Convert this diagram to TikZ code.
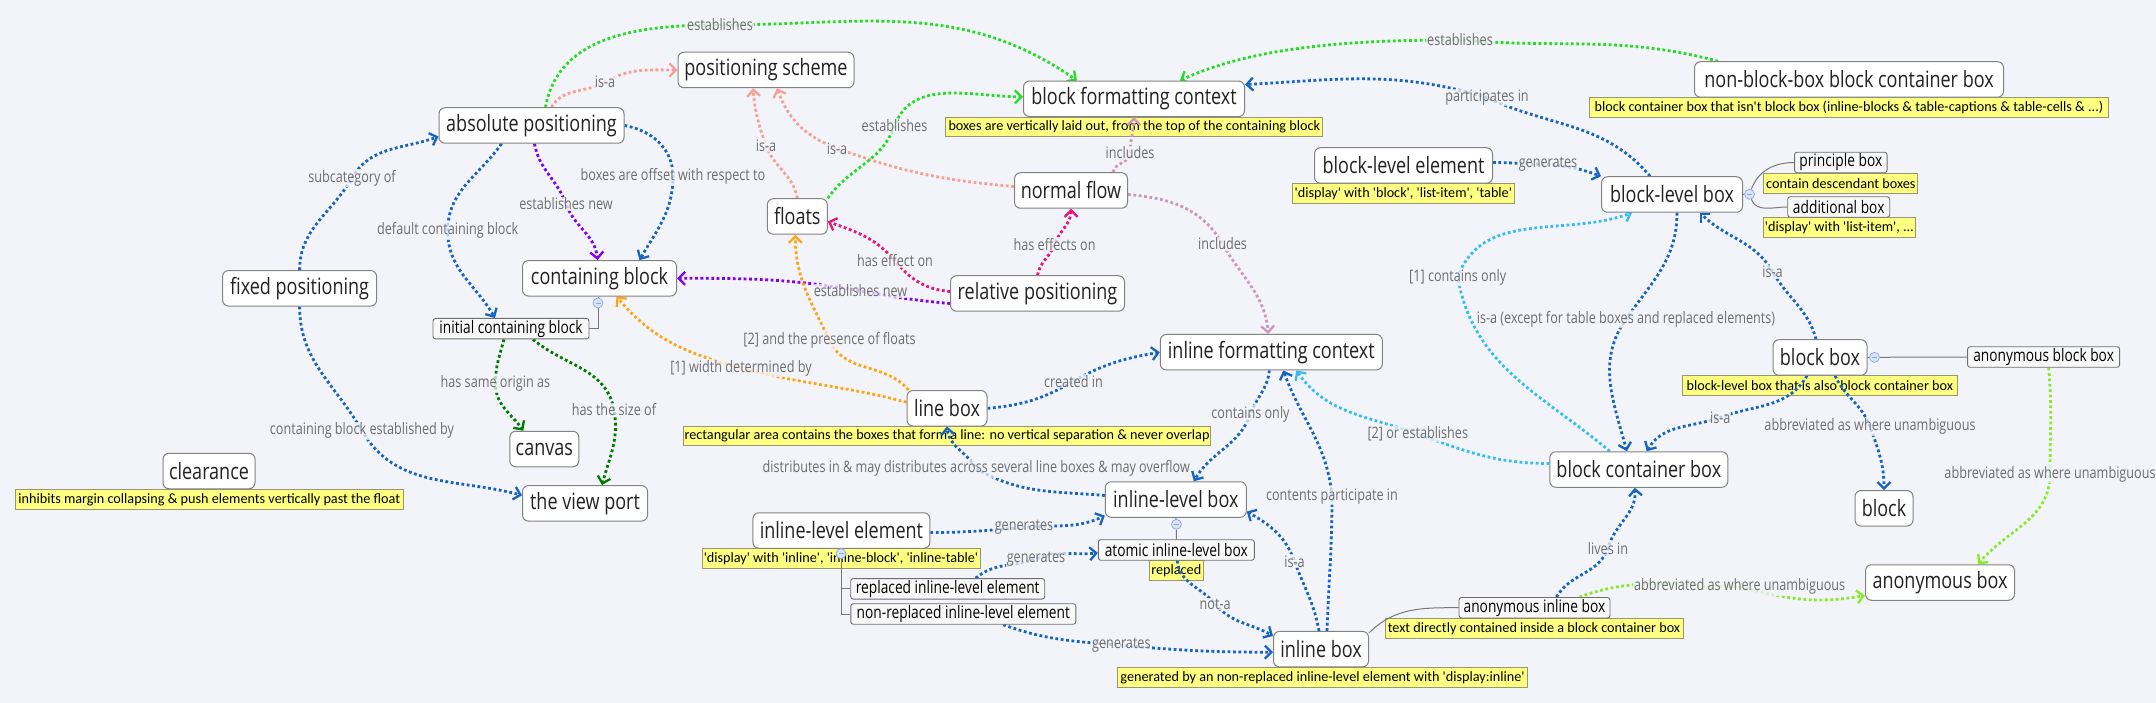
\documentclass[tikz,border=0pt]{standalone}
\usepackage{fontspec}
\usetikzlibrary{arrows.meta}
\newfontfamily\osf{Open Sans}[FakeStretch=0.8]
\newfontfamily\notef{Carlito}
\newcommand\myq{\textquotesingle}
\definecolor{bgc}{RGB}{243,244,249}
\definecolor{boxgray}{RGB}{130,130,130}
\definecolor{sboxgray}{RGB}{110,110,110}
\definecolor{sboxfill}{RGB}{248,248,248}
\definecolor{txtdark}{RGB}{34,34,34}
\definecolor{notegray}{RGB}{150,150,120}
\definecolor{noteyellow}{RGB}{255,255,128}
\definecolor{labgray}{RGB}{110,110,110}
\definecolor{treegray}{RGB}{120,120,120}
\definecolor{circblue}{RGB}{140,170,220}
\definecolor{circfill}{RGB}{215,228,248}
\definecolor{cblue}{RGB}{21,101,192}
\definecolor{cgreen}{RGB}{34,221,34}
\definecolor{csalmon}{RGB}{245,160,150}
\definecolor{cpurple}{RGB}{128,0,240}
\definecolor{cmag}{RGB}{232,18,122}
\definecolor{cmauve}{RGB}{205,150,190}
\definecolor{corange}{RGB}{255,165,20}
\definecolor{cdgreen}{RGB}{0,122,0}
\definecolor{clblue}{RGB}{50,190,240}
\definecolor{clgreen}{RGB}{135,235,40}
\pgfdeclarelayer{bgl}
\pgfdeclarelayer{notes}
\pgfdeclarelayer{edges}
\pgfsetlayers{bgl,notes,edges,main}
\tikzset{
 box/.style={draw=boxgray, line width=1pt, fill=white, rounded corners=6pt, inner sep=0pt, minimum height=35.5pt, font=\osf\fontsize{22.5}{24}\selectfont, text=txtdark},
 sbox/.style={draw=sboxgray, line width=0.9pt, fill=sboxfill, rounded corners=2.5pt, inner sep=0pt, minimum height=20.5pt, font=\osf\fontsize{17.2}{19}\selectfont, text=black},
 note/.style={draw=notegray, line width=0.8pt, fill=noteyellow, inner sep=0pt, minimum height=19.6pt, font=\notef\fontsize{14.2}{16}\selectfont, text=black},
 lab/.style={font=\osf\fontsize{15.8}{17}\selectfont, text=labgray, fill=bgc, fill opacity=0.75, text opacity=1, inner sep=1pt},
 conn/.style={line width=2.8pt, dash pattern=on 2.8pt off 2.6pt, -{Straight Barb[length=6.5pt,width=13pt,line width=2.3pt]}},
 tree/.style={draw=treegray, line width=1pt},
 mcirc/.style={circle, draw=circblue, fill=circfill, line width=0.7pt, inner sep=0pt, minimum size=10pt,
   path picture={\draw[circblue, line width=0.8pt] ([xshift=-2.5pt]path picture bounding box.center) -- ([xshift=2.5pt]path picture bounding box.center);}},
}
\begin{document}
\begin{tikzpicture}[x=1pt,y=1pt]
\begin{pgfonlayer}{bgl}
\path[fill=bgc] (0,0) rectangle (2156,-703);
\end{pgfonlayer}
\useasboundingbox (0,0) rectangle (2156,-703);

% main boxes
\node[box, minimum width=176pt] (ps) at (766,-70) {positioning scheme};
\node[box, minimum width=221pt] (bfc) at (1134,-98.8) {block formatting context};
\node[box, minimum width=309pt] (nbb) at (1849,-79.5) {non-block-box block container box};
\node[box, minimum width=185pt] (abs) at (531.5,-125.5) {absolute positioning};
\node[box, minimum width=178pt] (ble) at (1403.5,-165.5) {block-level element};
\node[box, minimum width=113pt] (nf) at (1071,-190.5) {normal flow};
\node[box, minimum width=141pt] (blb) at (1672,-194.5) {block-level box};
\node[box, minimum width=60pt] (fl) at (797.3,-216.5) {floats};
\node[box, minimum width=154pt] (cb) at (599.5,-278.3) {containing block};
\node[box, minimum width=154pt] (fp) at (299.6,-288.3) {fixed positioning};
\node[box, minimum width=174pt] (rp) at (1037.5,-293.5) {relative positioning};
\node[box, minimum width=222pt] (ifc) at (1271.3,-352.2) {inline formatting context};
\node[box, minimum width=80pt] (lb) at (947,-408.3) {line box};
\node[box, minimum width=94pt] (bb) at (1820,-357.5) {block box};
\node[box, minimum width=69pt] (cv) at (544.3,-449) {canvas};
\node[box, minimum width=92pt] (cl) at (209,-471) {clearance};
\node[box, minimum width=125pt] (vp) at (585,-503.3) {the view port};
\node[box, minimum width=178pt] (bcb) at (1638.8,-469.5) {block container box};
\node[box, minimum width=141pt] (ilb) at (1175.8,-499.5) {inline-level box};
\node[box, minimum width=177pt] (ile) at (841.4,-530.5) {inline-level element};
\node[box, minimum width=58pt] (blk) at (1884,-508.3) {block};
\node[box, minimum width=149pt] (ab) at (1940,-582.5) {anonymous box};
\node[box, minimum width=95pt] (ib) at (1321,-649.2) {inline box};

% small boxes
\node[sbox, minimum width=156pt] (icb) at (511,-328.7) {initial containing block};
\node[sbox, minimum width=92.5pt] (pb) at (1840.8,-162.5) {principle box};
\node[sbox, minimum width=102pt] (adb) at (1838.7,-207) {additional box};
\node[sbox, minimum width=152pt] (anb) at (2043.6,-357) {anonymous block box};
\node[sbox, minimum width=151pt] (aib) at (1534.5,-607.7) {anonymous inline box};
\node[sbox, minimum width=156pt] (atomic) at (1176.3,-550) {atomic inline-level box};
\node[sbox, minimum width=194pt] (rie) at (947.7,-588.8) {replaced inline-level element};
\node[sbox, minimum width=225pt] (nrie) at (963.3,-614) {non-replaced inline-level element};

% notes
\begin{pgfonlayer}{notes}
\node[note, minimum width=377pt] (tbfc) at (1134.3,-127) {boxes are vertically laid out, from the top of the containing block};
\node[note, minimum width=519pt] (tnbb) at (1849,-107.3) {block container box that isn\myq t block box (inline-blocks \& table-captions \& table-cells \& ...)};
\node[note, minimum width=222pt] (tble) at (1403.3,-193.3) {\myq display\myq\ with \myq block\myq, \myq list-item\myq, \myq table\myq};
\node[note, minimum width=154pt] (tpb) at (1840.8,-183.3) {contain descendant boxes};
\node[note, minimum width=152pt] (tadb) at (1839.4,-227.3) {\myq display\myq\ with \myq list-item\myq, ...};
\node[note, minimum width=275.5pt] (tbb) at (1819.8,-385.3) {block-level box that is also block container box};
\node[note, minimum width=527pt] (tlb) at (947,-436) {rectangular area contains the boxes that form a line: no vertical separation \& never overlap};
\node[note, minimum width=387.5pt] (tcl) at (209.3,-499.5) {inhibits margin collapsing \& push elements vertically past the float};
\node[note, minimum width=278pt] (tile) at (841,-558.3) {\myq display\myq\ with \myq inline\myq, \myq inline-block\myq, \myq inline-table\myq};
\node[note, minimum width=54pt] (trep) at (1176.3,-570.3) {replaced};
\node[note, minimum width=298pt] (taib) at (1534,-628.5) {text directly contained inside a block container box};
\node[note, minimum width=410pt] (tib) at (1322.5,-677.5) {generated by an non-replaced inline-level element with \myq display:inline\myq};
\end{pgfonlayer}

% collapse circles
\node[mcirc] (cbc) at (598,-303) {};
\node[mcirc] (blbc) at (1749.5,-194.3) {};
\node[mcirc] (bbc) at (1874.4,-357.3) {};
\node[mcirc] (ilbc) at (1176.4,-524.3) {};
\node[mcirc] (ilec) at (841,-553.7) {};

% labels
\node[lab] (l-est1) at (720,-25) {establishes};
\node[lab] (l-isa1) at (605,-82) {is-a};
\node[lab] (l-sub) at (352,-178) {subcategory of};
\node[lab] (l-dcb) at (447.7,-230.7) {default containing block};
\node[lab] (l-esn1) at (566,-204) {establishes new};
\node[lab] (l-off) at (673,-176) {boxes are offset with respect to};
\node[lab] (l-est2) at (894.5,-126) {establishes};
\node[lab] (l-isa2) at (766,-145.3) {is-a};
\node[lab] (l-isa3) at (837,-148.3) {is-a};
\node[lab] (l-inc1) at (1130,-153) {includes};
\node[lab] (l-hes) at (1054.6,-244.3) {has effects on};
\node[lab] (l-he) at (895,-261) {has effect on};
\node[lab] (l-esn2) at (860.5,-291) {establishes new};
\node[lab] (l-inc2) at (1222.5,-244) {includes};
\node[lab] (l-f2) at (829.5,-340.7) {[2] and the presence of floats};
\node[lab] (l-w1) at (741,-368) {[1] width determined by};
\node[lab] (l-so) at (495.4,-383.7) {has same origin as};
\node[lab] (l-sz) at (614,-410) {has the size of};
\node[lab] (l-cbe) at (362,-430.7) {containing block established by};
\node[lab] (l-est3) at (1460,-40) {establishes};
\node[lab] (l-par) at (1487,-97.7) {participates in};
\node[lab] (l-gen1) at (1548,-164.3) {generates};
\node[lab] (l-isa4) at (1772.5,-271.7) {is-a};
\node[lab] (l-isx) at (1626,-319) {is-a (except for table boxes and replaced elements)};
\node[lab] (l-co1) at (1457.7,-277.3) {[1] contains only};
\node[lab] (l-or) at (1417.8,-434) {[2] or establishes};
\node[lab] (l-isa5) at (1720.3,-417.3) {is-a};
\node[lab] (l-abb1) at (1870,-426.7) {abbreviated as where unambiguous};
\node[lab] (l-abb2) at (2050,-474) {abbreviated as where unambiguous};
\node[lab] (l-lives) at (1608,-548.3) {lives in};
\node[lab] (l-abb3) at (1739.7,-586.7) {abbreviated as where unambiguous};
\node[lab] (l-ci) at (1073.5,-381.3) {created in};
\node[lab] (l-co2) at (1250.5,-414) {contains only};
\node[lab] (l-dist) at (976.3,-468.7) {distributes in \& may distributes across several line boxes \& may overflow};
\node[lab] (l-cp) at (1332,-496.7) {contents participate in};
\node[lab] (l-gen2) at (1024,-527.3) {generates};
\node[lab] (l-gen3) at (1036,-558.7) {generates};
\node[lab] (l-nota) at (1215.2,-604) {not-a};
\node[lab] (l-isa6) at (1294.5,-561.3) {is-a};
\node[lab] (l-gen4) at (1121.4,-645.3) {generates};

% tree lines
\begin{pgfonlayer}{notes}
\draw[tree] (cbc.center) -- (cbc |- cb.south);
\draw[tree] (cbc) |- (icb.east);
\draw[tree] (blb.east) -- (blbc);
\draw[tree] (blbc) to[out=70,in=180] (pb.west);
\draw[tree] (blbc) to[out=-70,in=180] (adb.west);
\draw[tree] (bb.east) -- (bbc) -- (anb.west);
\draw[tree] (ilb.south) -- (ilbc) -- (atomic.north);
\draw[tree] (ilec) |- (rie.west);
\draw[tree] (ilec) |- (nrie.west);
\draw[tree] ([yshift=-2pt]ib.north east) to[out=45,in=180] (aib.west);
\end{pgfonlayer}

% connectors
\begin{pgfonlayer}{edges}
\draw[conn, cgreen] ([xshift=14pt]abs.north) to[out=80,in=180] (l-est1.center) to[out=0,in=145] ([xshift=-57pt]bfc.north);
\draw[conn, csalmon] ([xshift=20pt]abs.north) to[out=60,in=210] (l-isa1.center) to[out=30,in=180] (ps.west);
\draw[conn, cblue] (fp.north) to[out=90,in=240] (l-sub.center) to[out=60,in=200] ([yshift=-11pt]abs.west);
\draw[conn, cblue] ([xshift=-30pt]abs.south) to[out=235,in=90] (l-dcb.center) to[out=-90,in=120] ([xshift=-16pt]icb.north);
\draw[conn, cpurple] ([xshift=3pt]abs.south) to[out=-80,in=110] (l-esn1.center) to[out=-70,in=95] ([xshift=-2pt]cb.north);
\draw[conn, cblue] (abs.east) to[out=-10,in=90] (l-off.center) to[out=-90,in=60] ([xshift=40pt]cb.north);
\draw[conn, cblue] (fp.south) to[out=-90,in=120] (l-cbe.center) to[out=-60,in=165] ([yshift=8pt]vp.west);
\draw[conn, cdgreen] ([xshift=-7pt]icb.south) to[out=-105,in=90] (l-so.center) to[out=-90,in=125] ([xshift=-21pt]cv.north);
\draw[conn, cdgreen] ([xshift=22pt]icb.south) to[out=-40,in=100] (l-sz.center) to[out=-80,in=75] ([xshift=17pt]vp.north);
\draw[conn, cpurple] ([yshift=-10pt]rp.west) to[out=175,in=-10] (l-esn2.center) to[out=170,in=0] (cb.east);
\draw[conn, corange] ([yshift=6pt]lb.west) to[out=165,in=-15] (l-w1.center) to[out=165,in=-50] ([xshift=17pt]cb.south);
\draw[conn, corange] ([xshift=2pt]lb.north west) to[out=130,in=-65] (l-f2.center) to[out=115,in=-90] ([xshift=-2pt]fl.south);
\draw[conn, csalmon] (fl.north) to[out=100,in=-70] (l-isa2.center) to[out=110,in=-85] ([xshift=-13pt]ps.south);
\draw[conn, csalmon] ([yshift=4pt]nf.west) to[out=175,in=-20] (l-isa3.center) to[out=160,in=-70] ([xshift=11pt]ps.south);
\draw[conn, cgreen] (fl.north east) to[out=55,in=-110] (l-est2.center) to[out=70,in=180] ([yshift=2pt]bfc.west);
\draw[conn, cmauve] ([xshift=42pt]nf.north) to[out=80,in=-90] (l-inc1.center) to[out=90,in=-90] (bfc.south);
\draw[conn, cmauve] ([yshift=-4pt]nf.east) to[out=-5,in=120] (l-inc2.center) to[out=-60,in=95] ([xshift=-3pt]ifc.north);
\draw[conn, cmag] (rp.north) to[out=80,in=-110] (l-hes.center) to[out=70,in=-90] (nf.south);
\draw[conn, cmag] ([yshift=2pt]rp.west) to[out=175,in=-50] (l-he.center) to[out=130,in=-20] ([yshift=-5pt]fl.east);
\draw[conn, cgreen] ([xshift=-131pt]nbb.north) to[out=165,in=-5] (l-est3.center) to[out=180,in=25,looseness=0.8] ([xshift=46pt]bfc.north);
\draw[conn, cblue] ([xshift=-22pt]blb.north) to[out=130,in=-25] (l-par.center) to[out=163,in=3] ([yshift=-4pt]bfc.north east);
\draw[conn, cblue] ([yshift=3pt]ble.east) to[out=0,in=180] (l-gen1.center) to[out=-5,in=160] (blb.north west);
\draw[conn, cblue] ([xshift=-4pt]bb.north) to[out=105,in=-60] (l-isa4.center) to[out=120,in=-45] ([xshift=28pt]blb.south);
\draw[conn, clblue] ([xshift=-29pt]bcb.north) to[out=140,in=-80] (l-co1.center) to[out=70,in=-160] ([xshift=-40pt]blb.south);
\draw[conn, cblue] ([xshift=5pt]blb.south) to[out=-90,in=55] (l-isx.center) to[out=-125,in=105] ([xshift=-12pt]bcb.north);
\draw[conn, cblue] ([xshift=-13pt]bb.south) to[out=-120,in=20] (l-isa5.center) to[out=200,in=60] ([xshift=8pt]bcb.north);
\draw[conn, cblue] ([xshift=15pt]bb.south) to[out=-65,in=110] (l-abb1.center) to[out=-70,in=90] (blk.north);
\draw[conn, clgreen] ([xshift=5pt]anb.south) to[out=-85,in=90] (l-abb2.center) to[out=-90,in=50] ([xshift=38pt]ab.north);
\draw[conn, clblue] ([yshift=6pt]bcb.west) to[out=180,in=-20] (l-or.center) to[out=160,in=-55] ([xshift=25pt]ifc.south);
\draw[conn, cblue] ([xshift=6pt]ib.north) to[out=88,in=-90] (l-cp.center) to[out=95,in=-70] ([xshift=12pt]ifc.south);
\draw[conn, cblue] ([xshift=22pt]aib.north) to[out=60,in=-110] (l-lives.center) to[out=75,in=-85] ([xshift=-4pt]bcb.south);
\draw[conn, clgreen] ([xshift=45pt]aib.north) to[out=20,in=180] (l-abb3.center) to[out=-15,in=190] ([yshift=-13pt]ab.west);
\draw[conn, cblue] (lb.east) to[out=5,in=210] (l-ci.center) to[out=30,in=190] (ifc.west);
\draw[conn, cblue] ([xshift=-2pt]ifc.south) to[out=-95,in=70] (l-co2.center) to[out=-110,in=60] ([xshift=18pt]ilb.north);
\draw[conn, cblue] ([yshift=4pt]ilb.west) to[out=175,in=-30] (l-dist.center) to[out=120,in=-85] (lb.south);
\draw[conn, cblue] ([yshift=-2pt]ile.east) to[out=0,in=185] (l-gen2.center) to[out=5,in=205] ([yshift=2pt]ilb.south west);
\draw[conn, cblue] ([xshift=28pt]rie.north) to[out=40,in=200] (l-gen3.center) to[out=20,in=185] ([yshift=-3pt]atomic.west);
\draw[conn, cblue] ([xshift=1pt]atomic.south) to[out=-85,in=130] (l-nota.center) to[out=-50,in=150] ([yshift=-5pt]ib.north west);
\draw[conn, cblue] ([xshift=-2pt]ib.north) to[out=100,in=-70] (l-isa6.center) to[out=110,in=-30] ([yshift=-12pt]ilb.east);
\draw[conn, cblue] ([xshift=40pt]nrie.south) to[out=-20,in=175] (l-gen4.center) to[out=-5,in=180] ([yshift=-3pt]ib.west);
\end{pgfonlayer}
\end{tikzpicture}
\end{document}
